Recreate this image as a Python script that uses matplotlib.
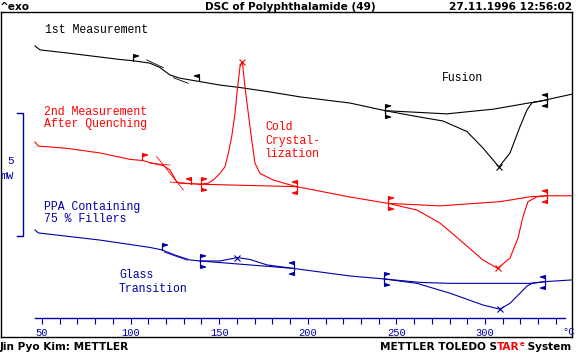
import numpy as np
import matplotlib
matplotlib.use("Agg")
import matplotlib.pyplot as plt
from matplotlib.path import Path

# temperatures in degC, heat flow in mW (exo up, curves shifted)
# 1st measurement
t1 = [46.05, 48.87, 65.80, 82.73, 94.02, 101.35, 110.95, 116.59, 122.23, 127.88,
      139.16, 150.45, 161.74, 178.67, 195.60, 223.81, 243.56, 261.63, 276.30, 289.84,
      298.87, 307.90, 314.11, 319.75, 323.70, 326.52, 333.86, 349.10]
q1 = [11.83, 11.67, 11.53, 11.38, 11.28, 11.23, 11.13, 10.95, 10.65, 10.52,
      10.38, 10.24, 10.14, 9.96, 9.76, 9.51, 9.20, 8.96, 8.78, 8.35,
      7.68, 6.91, 7.48, 8.55, 9.23, 9.52, 9.63, 9.87]
base1_t = [243.56, 278.39, 304.68, 325.40, 334.82]
base1_q = [9.20, 9.07, 9.26, 9.52, 9.63]
tang1 = [([109.09, 118.45], [11.26, 10.95]), ([124.10, 132.56], [10.54, 10.31])]
flags1 = [(101.35, "r"), (138.60, "l"), (243.56, "rr"), (334.82, "ll")]
peaks1 = [307.90]

# 2nd measurement after quenching
t2 = [46.05, 47.91, 63.94, 82.73, 99.66, 107.17, 110.95, 118.28, 122.23, 126.02,
      127.88, 139.16, 143.68, 146.67, 150.45, 153.27, 155.14, 157.06, 158.92, 160.21,
      161.74, 163.04, 164.56, 166.42, 168.34, 170.20, 173.02, 180.53, 188.09, 193.74,
      223.81, 245.43, 261.63, 274.60, 285.89, 298.87, 307.17, 314.11, 318.62, 321.44,
      324.27, 329.35, 334.99, 349.10]
q2 = [7.93, 7.76, 7.67, 7.48, 7.22, 7.17, 7.09, 6.97, 6.79, 6.31,
      6.25, 6.21, 6.25, 6.38, 6.65, 6.92, 7.47, 8.14, 9.09, 10.04,
      10.99, 11.19, 10.17, 9.09, 8.01, 7.06, 6.65, 6.38, 6.22, 6.11,
      5.69, 5.43, 5.16, 4.63, 3.94, 3.13, 2.79, 3.21, 4.02, 4.89,
      5.50, 5.70, 5.74, 5.74]
base2a_t = [139.16, 193.74]
base2a_q = [6.21, 6.11]
base2b_t = [245.43, 274.60, 308.47, 325.40, 334.82]
base2b_q = [5.43, 5.33, 5.50, 5.70, 5.74]
tang2 = [([114.73, 129.74], [7.33, 5.98]), ([110.95, 122.23], [7.06, 6.99]),
         ([122.23, 139.16], [6.30, 6.21])]
flags2 = [(106.43, "r"), (134.09, "l"), (139.73, "rr"), (193.74, "ll"),
          (245.43, "rr"), (334.99, "ll")]
peaks2 = [163.04, 307.17]

# PPA containing 75 % fillers
t3 = [46.05, 47.91, 82.73, 110.95, 117.72, 125.06, 133.52, 139.16, 150.45, 160.21,
      167.38, 176.98, 191.65, 223.81, 243.00, 261.63, 280.25, 298.87, 308.47, 314.11,
      319.75, 323.70, 326.52, 333.86, 349.10]
q3 = [4.35, 4.23, 3.94, 3.64, 3.54, 3.33, 3.13, 3.09, 3.09, 3.23,
      3.15, 2.93, 2.79, 2.48, 2.36, 2.18, 1.78, 1.30, 1.13, 1.37,
      1.78, 2.07, 2.18, 2.25, 2.32]
base3a_t = [139.16, 191.65]
base3a_q = [3.09, 2.79]
base3b_t = [243.00, 263.32, 280.25, 325.40, 333.86]
base3b_q = [2.36, 2.22, 2.18, 2.18, 2.25]
tang3 = [([119.0, 132.0], [3.45, 3.12])]
flags3 = [(117.72, "r"), (139.16, "rr"), (192.21, "ll"), (243.00, "rr"), (333.86, "ll")]
peaks3 = [160.21, 308.47]

x_ticks = [50, 100, 150, 200, 250, 300]

BLACK = "#000000"
RED = "#ff0000"
BLUE = "#0000a8"
W, H = 579, 354


def px(x, y):
    return x / W, 1 - y / H


def flag_path(dx, dy):
    verts = [(0, 0), (0, dy), (0.75 * dx, 0.8 * dy), (0, 0.55 * dy), (0, 0)]
    codes = [Path.MOVETO, Path.LINETO, Path.LINETO, Path.LINETO, Path.CLOSEPOLY]
    return Path(verts, codes)


def draw_curve(ax, t, q, bases, tangs, flags, peaks, color):
    ax.plot(t, q, color=color, lw=0.8)
    for bt, bq in bases:
        ax.plot(bt, bq, color=color, lw=0.8)
    for tt, tq in tangs:
        ax.plot(tt, tq, color=color, lw=0.6)
    for temp, kind in flags:
        y = np.interp(temp, t, q)
        dx = 1 if kind[0] == "r" else -1
        ax.plot(temp, y, marker=flag_path(dx, 1), ms=10, color=color, mew=0.8)
        if len(kind) == 2:
            ax.plot(temp, y, marker=flag_path(dx, -1), ms=10, color=color, mew=0.8)
    for temp in peaks:
        ax.plot(temp, np.interp(temp, t, q), marker="x", ms=5, mew=0.8, color=color)


plt.rcParams["font.family"] = ["Liberation Mono", "DejaVu Sans Mono"]

fig = plt.figure(figsize=(W / 100, H / 100), dpi=100)
ax = fig.add_axes([1 / W, (H - 337) / H, 571 / W, 325 / H])
ax.set_xlim(26.86, 349.10)
ax.set_ylim(0, 13.21)
ax.set_xticks([])
ax.set_yticks([])
for s in ax.spines.values():
    s.set_linewidth(1.0)

draw_curve(ax, t1, q1, [(base1_t, base1_q)], tang1, flags1, peaks1, BLACK)
draw_curve(ax, t2, q2, [(base2a_t, base2a_q), (base2b_t, base2b_q)], tang2, flags2, peaks2, RED)
draw_curve(ax, t3, q3, [(base3a_t, base3a_q), (base3b_t, base3b_q)], tang3, flags3, peaks3, BLUE)

# 5 mW scale bar
ax.plot([36.06, 39.1, 39.1, 36.06], [9.12, 9.12, 4.12, 4.12], color=BLUE, lw=1.0)

# temperature axis
ax2 = fig.add_axes([35 / W, (H - 318) / H, 530 / W, 0.0001])
ax2.set_xlim(46.05, 345.15)
ax2.patch.set_visible(False)
for side in ["top", "left", "right"]:
    ax2.spines[side].set_visible(False)
ax2.spines["bottom"].set_color(BLUE)
ax2.spines["bottom"].set_linewidth(1.0)
ax2.set_yticks([])
ax2.set_xticks(x_ticks)
ax2.set_xticks(np.arange(60, 350, 10), minor=True)
ax2.tick_params(axis="x", which="both", direction="out", length=4, width=0.8,
                color=BLUE, labelcolor=BLUE, labelsize=7.5, pad=3.5)

# annotations
mono = dict(fontsize=8.3, va="center", ha="left")
labels = [
    ("1st Measurement", 45, 30, BLACK),
    ("Fusion", 442, 78, BLACK),
    ("2nd Measurement", 44, 112, RED),
    ("After Quenching", 44, 124.5, RED),
    ("Cold", 265, 127.5, RED),
    ("Crystal-", 265, 141, RED),
    ("lization", 265, 154, RED),
    ("PPA Containing", 44, 207, BLUE),
    ("75 % Fillers", 44, 219.5, BLUE),
    ("Glass", 119, 275.5, BLUE),
    ("Transition", 119, 288.5, BLUE),
]
for s, x, y, c in labels:
    fig.text(*px(x, y), s, color=c, **mono)
fig.text(*px(11, 161), "5", color=BLUE, fontsize=8, ha="center", va="center")
fig.text(*px(0, 176), "mW", color=BLUE, fontsize=8, ha="left", va="center")
fig.text(*px(562, 332), "\u00b0C", color=BLUE, fontsize=7.5, ha="left", va="center")

# header and footer
bold = dict(family="DejaVu Sans", fontweight="bold", fontsize=7.6)
fig.text(*px(0, 6.5), "^exo", ha="left", va="center", **bold)
fig.text(*px(290.5, 6.5), "DSC of Polyphthalamide (49)", ha="center", va="center", **bold)
fig.text(*px(572, 6.5), "27.11.1996 12:56:02", ha="right", va="center", **bold)
fig.text(*px(0, 347), "Jin Pyo Kim: METTLER", ha="left", va="center", **bold)

t_a = fig.text(*px(380, 347), "METTLER TOLEDO S", ha="left", va="center", **bold)
t_b = ax.annotate("TAR", xy=(1, 0), xycoords=t_a, va="bottom", ha="left",
                  color=RED, annotation_clip=False, **bold)
bold_small = dict(bold, fontsize=5)
t_c = ax.annotate("e", xy=(1, 0.45), xycoords=t_b, va="bottom", ha="left",
                  color=RED, annotation_clip=False, **bold_small)
ax.annotate(" System", xy=(1, 0), xycoords=(t_c, t_b), va="bottom", ha="left",
            annotation_clip=False, **bold)

fig.savefig("out.png", dpi=100)
